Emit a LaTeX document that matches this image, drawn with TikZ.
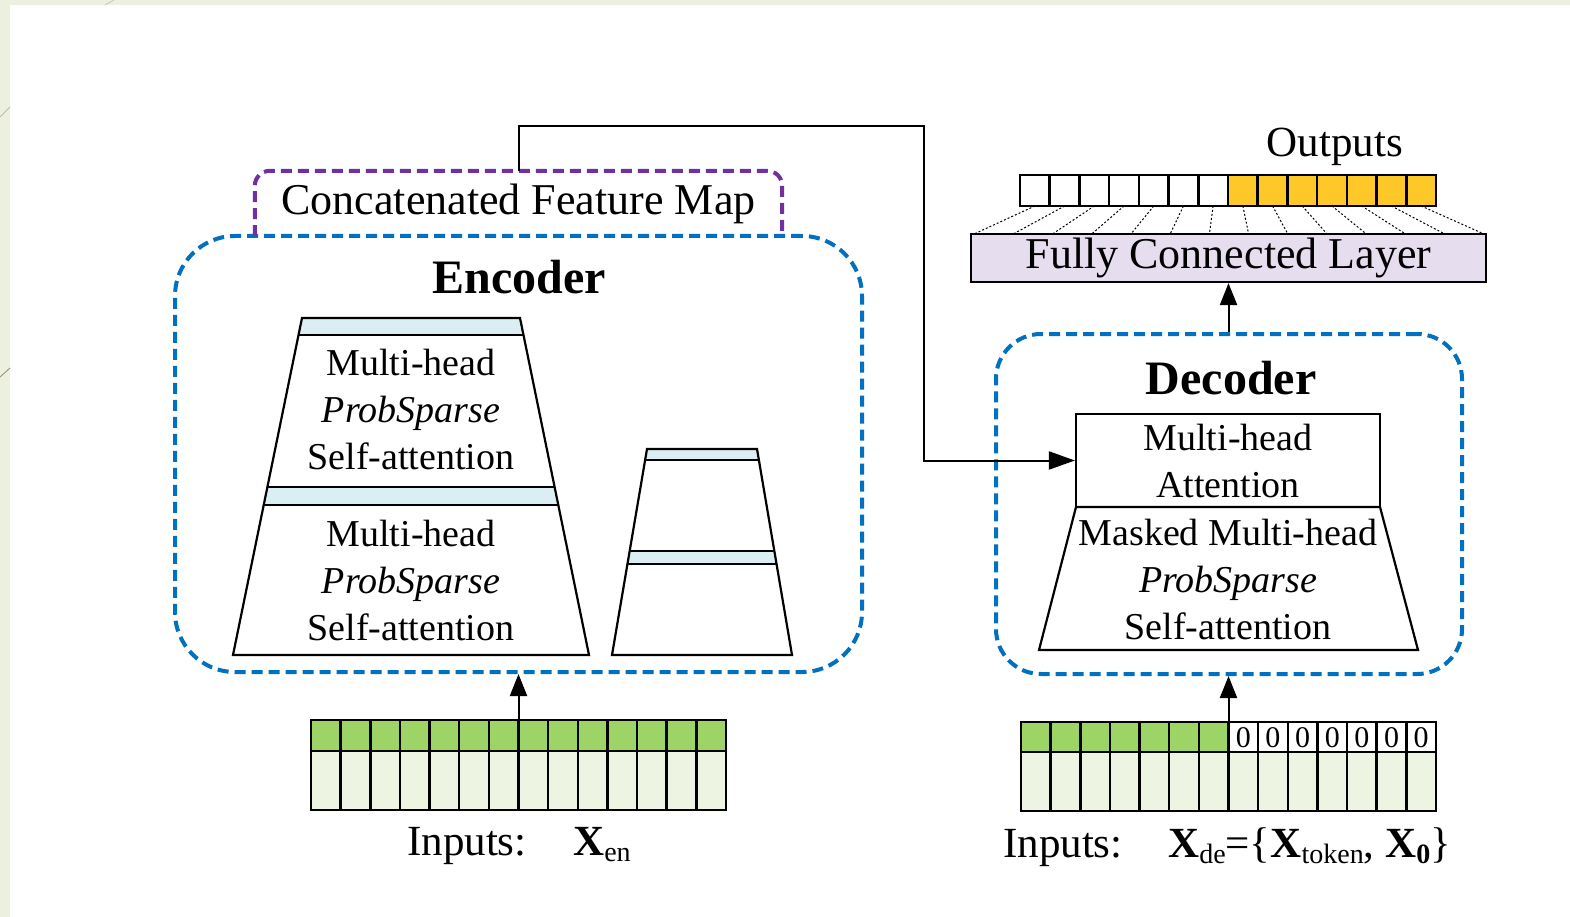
\documentclass[tikz,border=0pt]{standalone}
\usepackage{fontspec}
\setmainfont{Liberation Serif}
\usetikzlibrary{arrows.meta}
\definecolor{frameg}{RGB}{236,240,222}
\definecolor{framel}{RGB}{150,140,120}
\definecolor{dblue}{RGB}{0,112,192}
\definecolor{dpurp}{RGB}{112,48,160}
\definecolor{lblue}{RGB}{218,238,243}
\definecolor{gr}{RGB}{157,212,102}
\definecolor{lgr}{RGB}{237,245,226}
\definecolor{gold}{RGB}{253,200,40}
\definecolor{lav}{RGB}{230,222,238}
\newcommand\sbx[1]{\raisebox{-6pt}{\fontsize{28}{30}\selectfont #1}}
\begin{document}
\begin{tikzpicture}[x=1pt,y=-1pt,
  lay/.style={font=\fontsize{38}{47}\selectfont, align=center, inner sep=0pt},
  ttl/.style={font=\fontsize{48}{52}\selectfont\bfseries, inner sep=0pt},
  lbl/.style={font=\fontsize{43}{48}\selectfont, inner sep=0pt},
  bluebox/.style={draw=dblue, line width=4pt, dash pattern=on 11pt off 6pt},
  purpbox/.style={draw=dpurp, line width=4pt, dash pattern=on 11pt off 6pt, rounded corners=15pt},
  ol/.style={line width=2.2pt, line join=miter},
  cell/.style={line width=2.5pt},
  fan/.style={line width=1pt, dash pattern=on 2pt off 2pt},
  arr/.style={draw, line width=2pt, -{Triangle[length=22pt,width=17pt]}},
  arrb/.style={draw, line width=2pt, -{Triangle[length=26pt,width=18pt]}},
  zero/.style={font=\fontsize{30}{32}\selectfont, inner sep=0pt}
]
\useasboundingbox (0,0) rectangle (1570,917);
% slide background
\fill[frameg] (0,0) rectangle (1570,917);
\fill[white] (10,5) rectangle (1570,917);
\draw[framel!60, line width=0.8pt] (0,117) -- (10,107);
\draw[framel, line width=0.8pt] (0,377) -- (10,368);
\draw[framel!50, line width=0.8pt] (105,5) -- (114,0);

% ---------------- Encoder ----------------
\node[bluebox, minimum width=687pt, minimum height=436pt, rounded corners=60pt] (enc) at (518.5,454) {};
\node[font=\fontsize{44}{48}\selectfont, inner sep=0pt, minimum width=527pt, minimum height=65pt] (cfm) at (518.5,203.5) {Concatenated Feature Map};
\draw[purpbox] (cfm.south west) -- (cfm.north west) -- (cfm.north east) -- (cfm.south east);
\node[ttl] (enct) at (519,277) {Encoder};

% big stack
\fill[lblue] (302,318) -- (520,318) -- (523.5,335) -- (298.5,335) -- cycle;
\fill[lblue] (267.4,487) -- (554.6,487) -- (558.3,505) -- (263.7,505) -- cycle;
\draw[ol] (302,318) -- (520,318) -- (589,655) -- (233,655) -- cycle;
\draw[ol] (298.5,335) -- (523.5,335);
\draw[ol] (267.4,487) -- (554.6,487);
\draw[ol] (263.7,505) -- (558.3,505);
\node[lay] (e1) at (411,409) {Multi-head\\\textit{ProbSparse}\\Self-attention};
\node[lay] (e2) at (411,580) {Multi-head\\\textit{ProbSparse}\\Self-attention};

% small stack
\fill[lblue] (647,449) -- (757,449) -- (758.9,460) -- (645.1,460) -- cycle;
\fill[lblue] (629.7,551) -- (774.3,551) -- (776.5,564) -- (627.5,564) -- cycle;
\draw[ol] (647,449) -- (757,449) -- (792,655) -- (612,655) -- cycle;
\draw[ol] (645.1,460) -- (758.9,460);
\draw[ol] (629.7,551) -- (774.3,551);
\draw[ol] (627.5,564) -- (776.5,564);

% encoder inputs
\node[minimum width=415pt, minimum height=90pt, inner sep=0pt] (encin) at (518.5,765) {};
\fill[gr] (311,720) rectangle (726,751);
\fill[lgr] (311,751) rectangle (726,810);
\foreach \i in {1,...,13} \draw[cell] (311+\i*29.643,720) -- (311+\i*29.643,810);
\draw[cell] (311,751) -- (726,751);
\draw[cell] (311,720) rectangle (726,810);
\draw[arr] (encin.north) -- (enc.south);
\node[lbl, anchor=base west] (inen) at (407,855) {Inputs:};
\node[lbl, anchor=base west] (xen) at (573,855) {\textbf{X}\sbx{en}};

% ---------------- Decoder ----------------
\node[bluebox, minimum width=466pt, minimum height=340pt, rounded corners=45pt] (dec) at (1229,504) {};
\node[ttl] (dect) at (1231,378) {Decoder};
\node[draw, line width=2.2pt, minimum width=304pt, minimum height=93pt, lay] (mha) at (1228,460.5) {Multi-head\\Attention};
\draw[ol] (1076,507) -- (1380,507) -- (1418,650) -- (1039,650) -- cycle;
\node[lay] (mtxt) at (1228,579) {Masked Multi-head\\\textit{ProbSparse}\\Self-attention};

% decoder inputs
\node[minimum width=415pt, minimum height=89pt, inner sep=0pt] (decin) at (1228.5,766.5) {};
\fill[gr] (1021,722) rectangle (1228.5,752);
\fill[white] (1228.5,722) rectangle (1436,752);
\fill[lgr] (1021,752) rectangle (1436,811);
\foreach \i in {1,...,13} \draw[cell] (1021+\i*29.643,722) -- (1021+\i*29.643,811);
\draw[cell] (1021,752) -- (1436,752);
\draw[cell] (1021,722) rectangle (1436,811);
\foreach \i in {7,...,13} \node[zero] (z\i) at (1021+\i*29.643+14.82,738) {0};
\draw[arr] (decin.north) -- (decin.north |- dec.south);
\node[lbl, anchor=base west] (inde) at (1003,857) {Inputs:};
\node[lbl, anchor=base west] (xde) at (1168,857) {\textbf{X}\sbx{de}=\{\textbf{X}\sbx{token}, \textbf{X}\sbx{\textbf{0}}\}};

% ---------------- Output side ----------------
\node[draw, line width=2.2pt, fill=lav, minimum width=515pt, minimum height=48pt, inner sep=0pt, font=\fontsize{44}{46}\selectfont] (fc) at (1228.5,258) {Fully Connected Layer};
\draw[arr] (fc.south |- dec.north) -- (fc.south);
\node[minimum width=416pt, minimum height=31pt, inner sep=0pt] (outrow) at (1228,190.5) {};
\fill[gold] (1228,175) rectangle (1436,206);
\foreach \i in {0,...,13} \draw[fan] (1020+\i*29.714+14.86,206) -- (974+\i*39.23,234);
\foreach \i in {1,...,13} \draw[cell] (1020+\i*29.714,175) -- (1020+\i*29.714,206);
\draw[cell] (outrow.north west) rectangle (outrow.south east);
\node[lbl] (outl) at (1335,147) {Outputs};

% feature map link
\coordinate (c1) at (518.5,126);
\coordinate (c2) at (924,126);
\draw[arrb] (cfm.north) -- (c1) -- (c2) |- (mha.west);
\end{tikzpicture}
\end{document}
